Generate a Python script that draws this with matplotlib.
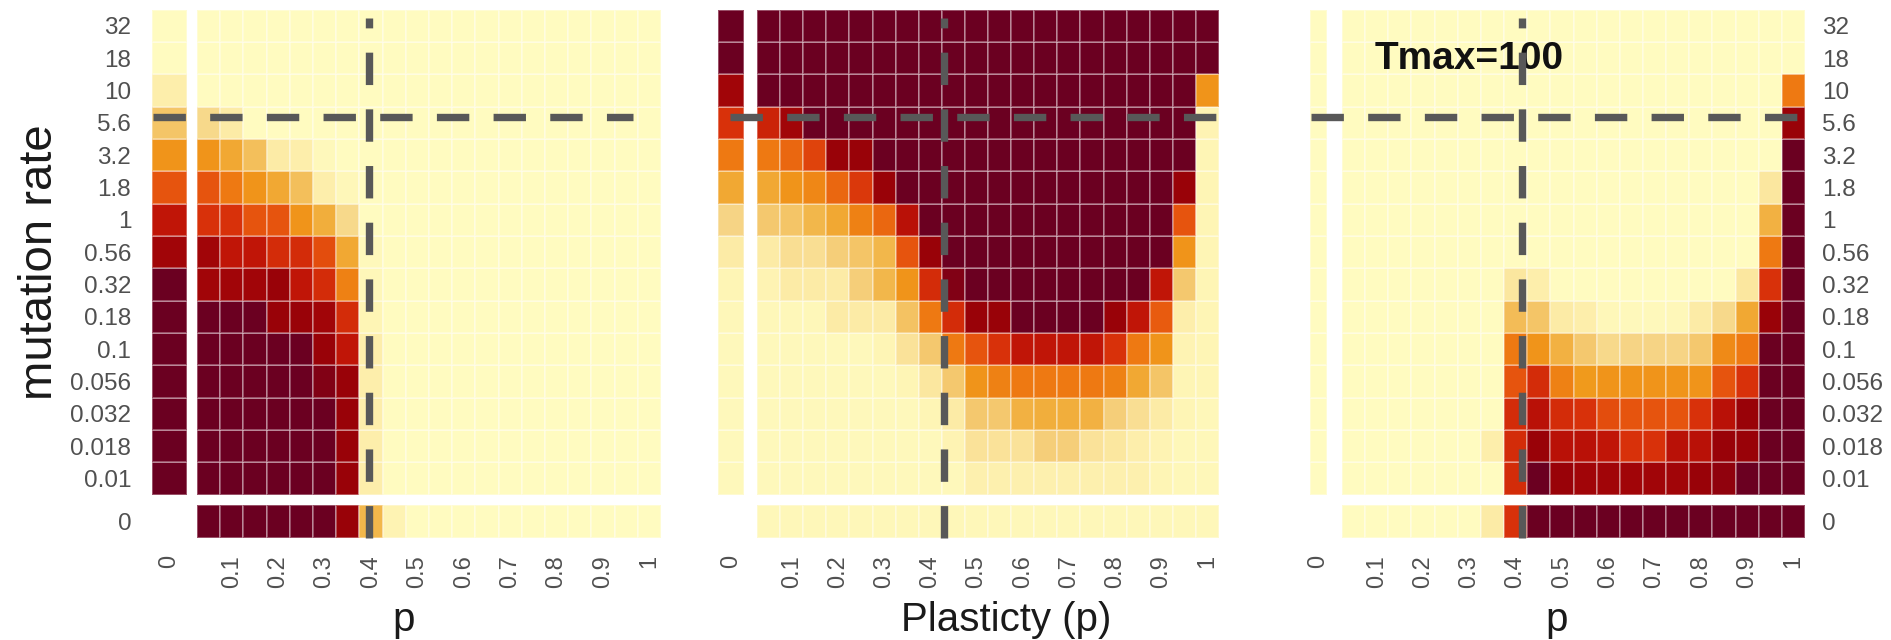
import numpy as np
import matplotlib
matplotlib.use('Agg')
import matplotlib.pyplot as plt
from matplotlib.colors import LinearSegmentedColormap

plt.rcParams['font.family'] = ['Liberation Sans', 'DejaVu Sans']

# ---- data -------------------------------------------------------------
# mutation-rate rows, bottom to top
mu_labels = ['0.01', '0.018', '0.032', '0.056', '0.1', '0.18', '0.32', '0.56',
             '1', '1.8', '3.2', '5.6', '10', '18', '32']
# plasticity columns of the main grid
p_values = [0.05, 0.1, 0.15, 0.2, 0.25, 0.3, 0.35, 0.4, 0.45, 0.5,
            0.55, 0.6, 0.65, 0.7, 0.75, 0.8, 0.85, 0.9, 0.95, 1.0]
p_ticks = [0.1, 0.2, 0.3, 0.4, 0.5, 0.6, 0.7, 0.8, 0.9, 1.0]
p_tick_labels = ['0.1', '0.2', '0.3', '0.4', '0.5', '0.6', '0.7', '0.8', '0.9', '1']

# colour level 0-100, rows written top (32) -> bottom (0.01)
left_main = [
    [0, 0, 0, 0, 0, 0, 0, 0, 0, 0, 0, 0, 0, 0, 0, 0, 0, 0, 0, 0],
    [0, 0, 0, 0, 0, 0, 0, 0, 0, 0, 0, 0, 0, 0, 0, 0, 0, 0, 0, 0],
    [0, 0, 0, 0, 0, 0, 0, 0, 0, 0, 0, 0, 0, 0, 0, 0, 0, 0, 0, 0],
    [18, 10, 0, 0, 0, 0, 0, 0, 0, 0, 0, 0, 0, 0, 0, 0, 0, 0, 0, 0],
    [42, 35, 27, 10, 8, 2, 0, 0, 0, 0, 0, 0, 0, 0, 0, 0, 0, 0, 0, 0],
    [60, 50, 42, 35, 27, 8, 3, 0, 0, 0, 0, 0, 0, 0, 0, 0, 0, 0, 0, 0],
    [70, 70, 60, 60, 42, 33, 18, 0, 0, 0, 0, 0, 0, 0, 0, 0, 0, 0, 0, 0],
    [88, 80, 80, 72, 72, 62, 35, 2, 0, 0, 0, 0, 0, 0, 0, 0, 0, 0, 0, 0],
    [88, 88, 88, 90, 80, 72, 48, 3, 0, 0, 0, 0, 0, 0, 0, 0, 0, 0, 0, 0],
    [100, 100, 100, 90, 90, 88, 72, 4, 0, 0, 0, 0, 0, 0, 0, 0, 0, 0, 0, 0],
    [100, 100, 100, 100, 100, 90, 80, 8, 0, 0, 0, 0, 0, 0, 0, 0, 0, 0, 0, 0],
    [100, 100, 100, 100, 100, 95, 90, 8, 0, 0, 0, 0, 0, 0, 0, 0, 0, 0, 0, 0],
    [100, 100, 100, 100, 100, 100, 90, 8, 0, 0, 0, 0, 0, 0, 0, 0, 0, 0, 0, 0],
    [100, 100, 100, 100, 100, 100, 90, 8, 0, 0, 0, 0, 0, 0, 0, 0, 0, 0, 0, 0],
    [100, 100, 100, 100, 100, 100, 90, 8, 0, 0, 0, 0, 0, 0, 0, 0, 0, 0, 0, 0],
]
left_p0 = [0, 0, 8, 25, 42, 60, 80, 88, 100, 100, 100, 100, 100, 100, 100]
left_mu0 = [100, 100, 100, 100, 100, 100, 90, 30, 5, 0, 0, 0, 0, 0, 0, 0, 0, 0, 0, 0]

mid_main = [
    [100, 100, 100, 100, 100, 100, 100, 100, 100, 100, 100, 100, 100, 100, 100, 100, 100, 100, 100, 100],
    [100, 100, 100, 100, 100, 100, 100, 100, 100, 100, 100, 100, 100, 100, 100, 100, 100, 100, 100, 100],
    [100, 100, 100, 100, 100, 100, 100, 100, 100, 100, 100, 100, 100, 100, 100, 100, 100, 100, 100, 42],
    [75, 88, 100, 100, 100, 100, 100, 100, 100, 100, 100, 100, 100, 100, 100, 100, 100, 100, 100, 5],
    [50, 55, 65, 90, 90, 100, 100, 100, 100, 100, 100, 100, 100, 100, 100, 100, 100, 100, 100, 4],
    [35, 42, 46, 55, 68, 90, 100, 100, 100, 100, 100, 100, 100, 100, 100, 100, 100, 100, 90, 4],
    [24, 25, 30, 35, 48, 55, 82, 100, 100, 100, 100, 100, 100, 100, 100, 100, 100, 100, 60, 4],
    [10, 16, 16, 22, 25, 30, 60, 90, 100, 100, 100, 100, 100, 100, 100, 100, 100, 100, 42, 4],
    [5, 10, 10, 10, 22, 30, 42, 72, 95, 100, 100, 100, 100, 100, 100, 100, 100, 80, 24, 4],
    [3, 3, 3, 10, 10, 10, 26, 50, 72, 90, 90, 100, 100, 100, 100, 90, 80, 58, 8, 4],
    [2, 2, 2, 2, 2, 4, 14, 24, 50, 60, 70, 80, 80, 80, 80, 70, 50, 42, 5, 4],
    [2, 2, 2, 2, 2, 2, 4, 12, 24, 42, 48, 50, 50, 50, 50, 48, 35, 25, 4, 4],
    [2, 2, 2, 2, 2, 2, 2, 4, 10, 24, 24, 32, 33, 33, 32, 22, 16, 10, 4, 3],
    [2, 2, 2, 2, 2, 2, 2, 2, 5, 14, 14, 14, 22, 22, 14, 12, 8, 5, 3, 3],
    [2, 2, 2, 2, 2, 2, 2, 2, 2, 7, 7, 7, 7, 7, 7, 7, 7, 4, 3, 3],
]
mid_p0 = [100, 100, 88, 70, 50, 35, 20, 10, 4, 3, 2, 2, 2, 2, 2]
mid_mu0 = [3, 3, 3, 3, 3, 3, 3, 3, 3, 3, 3, 3, 3, 3, 3, 3, 3, 3, 3, 3]

right_main = [
    [0, 0, 0, 0, 0, 0, 0, 0, 0, 0, 0, 0, 0, 0, 0, 0, 0, 0, 0, 0],
    [0, 0, 0, 0, 0, 0, 0, 0, 0, 0, 0, 0, 0, 0, 0, 0, 0, 0, 0, 0],
    [0, 0, 0, 0, 0, 0, 0, 0, 0, 0, 0, 0, 0, 0, 0, 0, 0, 0, 0, 50],
    [0, 0, 0, 0, 0, 0, 0, 0, 0, 0, 0, 0, 0, 0, 0, 0, 0, 0, 0, 90],
    [0, 0, 0, 0, 0, 0, 0, 0, 0, 0, 0, 0, 0, 0, 0, 0, 0, 0, 0, 100],
    [0, 0, 0, 0, 0, 0, 0, 0, 0, 0, 0, 0, 0, 0, 0, 0, 0, 0, 12, 100],
    [0, 0, 0, 0, 0, 0, 0, 0, 0, 0, 0, 0, 0, 0, 0, 0, 0, 0, 32, 100],
    [0, 0, 0, 0, 0, 0, 0, 0, 0, 0, 0, 0, 0, 0, 0, 0, 0, 0, 50, 100],
    [0, 0, 0, 0, 0, 0, 0, 12, 8, 0, 0, 0, 0, 0, 0, 0, 0, 12, 70, 100],
    [0, 0, 0, 0, 0, 0, 0, 28, 25, 10, 8, 3, 2, 2, 3, 10, 18, 35, 90, 100],
    [0, 0, 0, 0, 0, 0, 0, 50, 42, 32, 24, 18, 20, 20, 20, 24, 45, 50, 100, 100],
    [0, 0, 0, 0, 0, 0, 0, 60, 72, 48, 40, 42, 42, 42, 42, 42, 60, 70, 100, 100],
    [0, 0, 0, 0, 0, 0, 0, 72, 82, 72, 70, 62, 60, 60, 60, 70, 82, 90, 100, 100],
    [0, 0, 0, 0, 0, 0, 8, 72, 90, 82, 82, 80, 70, 70, 82, 82, 90, 90, 100, 100],
    [0, 0, 0, 0, 0, 0, 0, 72, 100, 90, 88, 88, 88, 88, 88, 90, 92, 100, 100, 100],
]
right_p0 = [0, 0, 0, 0, 0, 0, 0, 0, 0, 0, 0, 0, 0, 0, 0]
right_mu0 = [0, 0, 0, 0, 0, 0, 10, 70, 100, 100, 100, 100, 100, 100, 100, 100, 100, 100, 100, 100]

# hand-drawn guide lines: p position of the vertical line in each panel,
# row position of the horizontal one, and the p span of the horizontal one
guide_p = [0.396, 0.43, 0.414]
guide_row = 11.68
guide_span = [(-0.07, 0.965), (-0.033, 1.018), (-0.042, 1.008)]

# ---- style ------------------------------------------------------------
heat = LinearSegmentedColormap.from_list('heat', [
    (0.00, '#FFFBC0'), (0.10, '#FCEBA5'), (0.20, '#F6D485'), (0.30, '#F2B64A'),
    (0.40, '#F09A1C'), (0.50, '#EE7A12'), (0.60, '#E6540E'), (0.70, '#D8320A'),
    (0.80, '#C01507'), (0.90, '#9A0208'), (1.00, '#6B0021')])
cell_edge = (1, 1, 1, 0.32)
tick_color = '#505050'
guide_color = '#585858'

W, H = 1891, 640
fig = plt.figure(figsize=(W / 100, H / 100), dpi=100)


def box(x0, y0, x1, y1):
    return [x0 / W, 1 - y1 / H, (x1 - x0) / W, (y1 - y0) / H]


def clean(ax):
    for s in ax.spines.values():
        s.set_visible(False)
    ax.tick_params(length=0, colors=tick_color)
    ax.set_xticks([])
    ax.set_yticks([])


grid_top, grid_bot = 9.6, 494.5
zero_top, zero_bot = 505, 538
p0_x = [(152, 187), (718, 744), (1310, 1327)]
main_x = [(197, 661), (757, 1219), (1342, 1805)]
panels = [(left_main, left_p0, left_mu0), (mid_main, mid_p0, mid_mu0),
          (right_main, right_p0, right_mu0)]

p_edges = np.append(np.array(p_values) - 0.025, p_values[-1] + 0.025)
row_edges = np.arange(len(mu_labels) + 1)
pcm = dict(cmap=heat, vmin=0, vmax=100, edgecolors=cell_edge, linewidth=1.4)

for i, (main, p0, mu0) in enumerate(panels):
    main_arr = np.array(main)[::-1]          # bottom row first
    p0_arr = np.array(p0)[::-1].reshape(-1, 1)
    mu0_arr = np.array(mu0).reshape(1, -1)

    # p = 0 column
    axc = fig.add_axes(box(p0_x[i][0], grid_top, p0_x[i][1], grid_bot))
    axc.pcolormesh([0, 1], row_edges, p0_arr, **pcm)
    axc.set_xlim(0, 1)
    axc.set_ylim(0, len(mu_labels))
    clean(axc)

    # mutation rate = 0 row
    axr = fig.add_axes(box(main_x[i][0], zero_top, main_x[i][1], zero_bot))
    axr.pcolormesh(p_edges, [0, 1], mu0_arr, **pcm)
    axr.set_xlim(p_edges[0], p_edges[-1])
    axr.set_ylim(0, 1)
    clean(axr)
    axr.set_xticks(p_ticks)
    axr.set_xticklabels(p_tick_labels, rotation=90, fontsize=17)
    axr.tick_params(axis='x', pad=12.5)

    # empty corner cell carries the "0" labels
    axk = fig.add_axes(box(p0_x[i][0], zero_top, p0_x[i][1], zero_bot))
    axk.set_xlim(0, 1)
    axk.set_ylim(0, 1)
    axk.patch.set_alpha(0)
    clean(axk)
    axk.set_xticks([0.5])
    axk.set_xticklabels(['0'], rotation=90, fontsize=17)
    axk.tick_params(axis='x', pad=12.5)

    # main grid
    ax = fig.add_axes(box(main_x[i][0], grid_top, main_x[i][1], grid_bot))
    ax.pcolormesh(p_edges, row_edges, main_arr, **pcm)
    ax.set_xlim(p_edges[0], p_edges[-1])
    ax.set_ylim(0, len(mu_labels))
    clean(ax)
    ax.set_zorder(5)
    ax.patch.set_alpha(0)

    rows = np.arange(len(mu_labels)) + 0.5
    if i == 0:
        axc.set_yticks(rows)
        axc.set_yticklabels(mu_labels, fontsize=17.5)
        axc.tick_params(axis='y', pad=15)
        axk.set_yticks([0.5])
        axk.set_yticklabels(['0'], fontsize=17.5)
        axk.tick_params(axis='y', pad=15)
    if i == 2:
        ax.yaxis.tick_right()
        ax.set_yticks(rows)
        ax.set_yticklabels(mu_labels, fontsize=17.5)
        ax.tick_params(axis='y', pad=12, length=0)
        axr.yaxis.tick_right()
        axr.set_yticks([0.5])
        axr.set_yticklabels(['0'], fontsize=17.5)
        axr.tick_params(axis='y', pad=12, length=0)
        ax.text(1375 / W, 1 - 69 / H, 'Tmax=100', transform=fig.transFigure,
                fontsize=28, fontweight='bold', color='#111111',
                va='baseline', ha='left', zorder=2)

    # dashed guide lines
    ax.plot(guide_span[i], [guide_row, guide_row], color=guide_color, lw=5.3,
            dashes=(4.4, 3.3), dash_capstyle='butt', clip_on=False, zorder=3)
    ax.plot([guide_p[i], guide_p[i]], [-1.34, 14.74], color=guide_color, lw=5.3,
            dashes=(4.4, 3.3), dash_capstyle='butt', clip_on=False, zorder=3)

# axis titles
fig.text(40 / W, 1 - 262 / H, 'mutation rate', rotation=90, fontsize=34,
         ha='center', va='center', color='#1a1a1a')
fig.text(404 / W, 1 - 631 / H, 'p', fontsize=29, ha='center', va='baseline', color='#1a1a1a')
fig.text(1006 / W, 1 - 631 / H, 'Plasticty (p)', fontsize=29, ha='center',
         va='baseline', color='#1a1a1a')
fig.text(1557 / W, 1 - 631 / H, 'p', fontsize=29, ha='center', va='baseline', color='#1a1a1a')

fig.savefig('out.png', dpi=100)
